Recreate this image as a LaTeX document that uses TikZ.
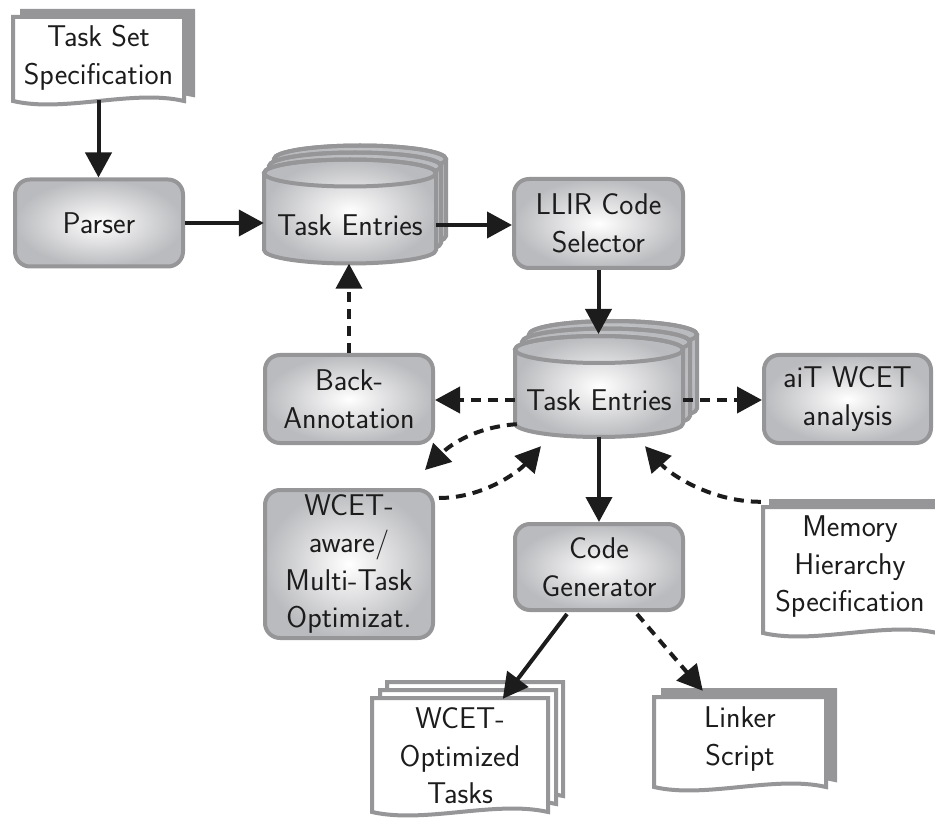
\documentclass[tikz,border=0pt]{standalone}
\usetikzlibrary{arrows.meta,calc}

\definecolor{boxline}{RGB}{150,150,153}
\definecolor{boxshade}{RGB}{186,187,190}
\definecolor{ink}{RGB}{28,28,28}

\newcommand\flowfont{\sffamily\fontsize{30}{37.5}\selectfont}

% document sheet with a wavy lower edge: style, x1, y1, x2, y2
\newcommand\docsheet[5]{%
  \path[#1] (#2,#3) -- (#4,#3) -- (#4,#5)
    .. controls ({#4-0.3*(#4-#2)},{#5-12}) and ({#2+0.3*(#4-#2)},{#5+12}) .. (#2,#5) -- cycle;}

% shaded storage cylinder: centre x, top-ellipse y, bottom-ellipse y, x radius
\newcommand\tank[4]{%
  \path[tankbody] ({#1-#4},#2) -- ({#1-#4},#3)
    arc[start angle=180,end angle=0,x radius=#4,y radius=13.5]
    -- ({#1+#4},#2)
    arc[start angle=0,end angle=-180,x radius=#4,y radius=13.5] -- cycle;
  \draw[boxline,line width=4pt] (#1,#2) ellipse[x radius=#4,y radius=13.5];}

\begin{document}
\begin{tikzpicture}[x=1pt,y=-1pt,
  procbox/.style={draw=boxline,line width=4pt,rounded corners=15pt,
    inner color=white,outer color=boxshade,align=center,text=ink,
    font=\flowfont,inner sep=0pt},
  labelbox/.style={align=center,text=ink,font=\flowfont,inner sep=0pt},
  sheet/.style={draw=boxline,line width=4pt,fill=white},
  shadowsheet/.style={draw=boxline,line width=4pt,fill=boxline},
  tankbody/.style={draw=boxline,line width=4pt,inner color=white,outer color=boxshade},
  flow/.style={draw=ink,line width=4pt,-{Triangle[length=25pt,width=26pt]}},
  flowdash/.style={flow,dash pattern=on 10pt off 7pt}]
\clip (0,0) rectangle (935,826);
\useasboundingbox (0,0) rectangle (935,826);

% documents
\docsheet{shadowsheet}{22}{11}{193}{95}
\docsheet{sheet}{13}{17}{184}{101}
\docsheet{shadowsheet}{771}{501}{945}{627}
\docsheet{sheet}{763}{507}{937}{633}
\docsheet{sheet}{387}{682}{563}{796}
\docsheet{sheet}{380}{690}{556}{804}
\docsheet{sheet}{372}{698}{548}{812}
\docsheet{shadowsheet}{663}{690}{835}{780}
\docsheet{sheet}{654}{697}{826}{787}

% task entry stores
\tank{360}{159}{236}{86}
\tank{355}{166}{243}{86}
\tank{350}{173}{250}{86}
\tank{613}{334.5}{408.5}{84}
\tank{606}{342}{416}{84}
\tank{599}{349.5}{423.5}{84}

% process boxes
\node[procbox,minimum width=168pt,minimum height=87pt] (parser) at (99,223) {Parser};
\node[procbox,minimum width=169pt,minimum height=89pt] (llir) at (598.5,223.5) {LLIR Code\\Selector};
\node[procbox,minimum width=168pt,minimum height=88pt] (backann) at (349,399) {Back-\\Annotation};
\node[procbox,minimum width=167pt,minimum height=88pt] (ait) at (847.5,399) {aiT WCET\\analysis};
\node[procbox,minimum width=168pt,minimum height=148pt] (wcetopt) at (349,564) {WCET-\\aware/\\Multi-Task\\Optimizat.};
\node[procbox,minimum width=168pt,minimum height=86pt] (codegen) at (599,567) {Code\\Generator};

% labels of stores and documents
\node[labelbox,minimum width=172pt,minimum height=77pt] (te1) at (350,225) {Task Entries};
\node[labelbox,minimum width=168pt,minimum height=74pt] (te2) at (599,400) {Task Entries};
\coordinate (te2top) at (599,334);
\node[labelbox,minimum width=171pt,minimum height=84pt] (taskspec) at (98.5,58) {Task Set\\Specification};
\node[labelbox,minimum width=174pt,minimum height=126pt] (memspec) at (850,567) {Memory\\Hierarchy\\Specification};
\node[labelbox,minimum width=176pt,minimum height=108pt] (wcettasks) at (460,756) {WCET-\\Optimized\\Tasks};
\node[labelbox,minimum width=172pt,minimum height=90pt] (linker) at (740,739) {Linker\\Script};

% connectors
\draw[flow] (taskspec.south) -- (taskspec.south |- parser.north);
\draw[flow] (parser.east) -- (parser.east -| te1.west);
\draw[flow] (te1.east) -- (te1.east -| llir.west);
\draw[flow] (llir.south) -- (llir.south |- te2top);
\draw[flowdash] (backann.north) -- (backann.north |- te1.south);
\draw[flowdash] (te2.west) -- (te2.west -| backann.east);
\draw[flowdash] (te2.east) -- (te2.east -| ait.west);
\draw[flow] (te2.south) -- (codegen.north);
\draw[flowdash] ($(te2.south west)+(2,-13)$) .. controls +(-45,3) and +(22,-22) .. ($(wcetopt.north east)+(-10,-18)$);
\draw[flowdash] ($(wcetopt.north east)+(4,10)$) .. controls +(45,0) and +(-22,25) .. ($(te2.south)+(-58,9)$);
\draw[flowdash] ($(memspec.north west)+(-2,-2)$) .. controls +(-50,0) and +(25,28) .. ($(te2.south)+(46,9)$);
\draw[flow] ($(codegen.south)+(-32,2)$) -- ($(wcettasks.north west)+(131,-3)$);
\draw[flowdash] ($(codegen.south)+(38,2)$) -- ($(linker.north west)+(49,-3)$);
\end{tikzpicture}
\end{document}
